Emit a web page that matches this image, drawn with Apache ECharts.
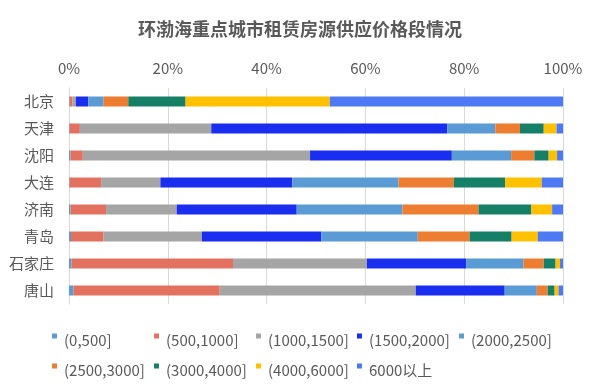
<!DOCTYPE html>
<html><head><meta charset="utf-8">
<script src="https://cdn.jsdelivr.net/npm/echarts@6/dist/echarts.min.js"></script>
<style>html,body{margin:0;padding:0;background:#fff}#c{width:600px;height:388px}</style>
</head><body><div id="c"></div>
<script>
const cities = ['北京','天津','沈阳','大连','济南','青岛','石家庄','唐山'];
const seriesNames = ['(0,500]','(500,1000]','(1000,1500]','(1500,2000]','(2000,2500]','(2500,3000]','(3000,4000]','(4000,6000]','6000以上'];
const s0 = [0.1, 0.1, 0.3, 0.1, 0.3, 0.4, 0.5, 0.9];
const s1 = [0.6, 2.1, 2.5, 6.4, 7.2, 6.6, 32.7, 29.6];
const s2 = [0.7, 26.6, 46.0, 12.0, 14.3, 19.9, 27.1, 39.7];
const s3 = [2.5, 47.8, 28.7, 26.7, 24.3, 24.2, 20.1, 18.0];
const s4 = [3.1, 9.7, 12.0, 21.5, 21.4, 19.5, 11.6, 6.5];
const s5 = [5.0, 5.0, 4.7, 11.2, 15.4, 10.5, 4.1, 2.2];
const s6 = [11.6, 4.8, 2.9, 10.4, 10.7, 8.5, 2.4, 1.4];
const s7 = [29.2, 2.6, 1.7, 7.4, 4.2, 5.3, 0.9, 0.8];
const s8 = [47.2, 1.3, 1.2, 4.3, 2.2, 5.1, 0.6, 0.9];
const allValues = [s0,s1,s2,s3,s4,s5,s6,s7,s8];
const colors = ['#5B9BD5','#E2725F','#A5A5A5','#1A2EEF','#5B9BD5','#ED7D31','#168066','#FFC000','#4D79F5'];

const font = '"Noto Sans CJK SC", "Noto Sans", sans-serif';
const txt = '#595959';
const colX = [52, 154, 256, 357, 459];
const legends = seriesNames.map((n, i) => ({
  data: [n],
  left: colX[i < 5 ? i : i - 5],
  top: i < 5 ? 333 : 363,
  padding: 0,
  itemWidth: 5,
  itemHeight: 14,
  icon: 'path://M0,0L5,0L5,5L0,5Z M0,0L0,14',
  selectedMode: false,
  textStyle: {color: txt, fontSize: 15, fontFamily: font, lineHeight: 14, padding: [0,0,0,2]}
}));

const chart = echarts.init(document.getElementById('c'));
chart.setOption({
  animation: false,
  title: {
    text: '环渤海重点城市租赁房源供应价格段情况',
    left: 'center', top: 20, padding: 0,
    textStyle: {color: txt, fontSize: 18, fontWeight: 'bold', fontFamily: font}
  },
  legend: legends,
  grid: {left: 69, right: 37, top: 88, bottom: 84, containLabel: false},
  xAxis: {
    type: 'value', position: 'top', min: 0, max: 100, interval: 20,
    axisLabel: {formatter: '{value}%', color: txt, fontSize: 15, fontFamily: font, margin: 12},
    axisLine: {show: false}, axisTick: {show: false},
    splitLine: {show: true, lineStyle: {color: '#D9D9D9', width: 1}}
  },
  yAxis: {
    type: 'category', data: cities, inverse: true,
    axisLabel: {color: txt, fontSize: 15, fontFamily: font, margin: 15},
    axisLine: {show: true, lineStyle: {color: '#D9D9D9'}},
    axisTick: {show: false}
  },
  series: seriesNames.map((n, i) => ({
    name: n, type: 'bar', stack: 'total', barWidth: 10,
    data: allValues[i],
    itemStyle: {color: colors[i]}
  }))
});
</script></body></html>
